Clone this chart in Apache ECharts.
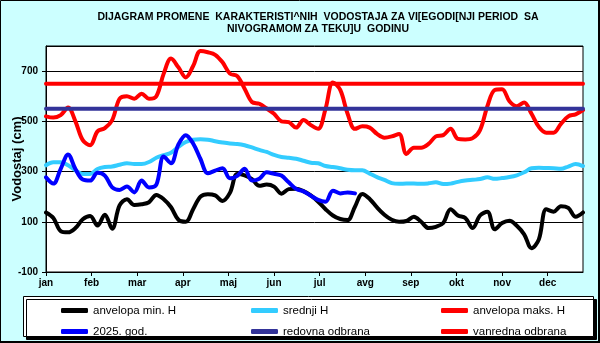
<!DOCTYPE html>
<html>
<head>
<meta charset="utf-8">
<script src="https://cdn.jsdelivr.net/npm/echarts@6/dist/echarts.min.js"></script>
<style>
html,body{margin:0;padding:0;background:#ccffff;}
#chart{width:600px;height:343px;}
</style>
</head>
<body>
<div id="chart"></div>
<script>
// ---- data ----
const monthLabels = ['jan','feb','mar','apr','maj','jun','jul','avg','sep','okt','nov','dec'];
const days = [0,5,10,15,20,25,30,35,40,45,50,55,60,65,70,75,80,85,90,95,100,105,110,115,120,125,130,135,140,145,150,155,160,165,170,175,180,185,190,195,200,205,210,215,220,225,230,235,240,245,250,255,260,265,270,275,280,285,290,295,300,305,310,315,320,325,330,335,340,345,350,355,360,365];
const anvelopaMin = [137,115,63,58,75,110,123,85,128,72,165,190,167,170,178,207,190,158,108,100,150,200,210,205,183,215,290,285,270,243,248,240,212,230,232,222,205,180,150,125,111,107,160,211,191,157,128,108,100,103,120,100,75,80,95,150,125,115,75,125,140,70,95,104,84,50,-5,30,150,140,162,155,120,137];
const srednjiH = [325,337,337,325,305,290,290,310,318,320,327,333,330,330,338,355,365,375,398,418,427,429,427,421,416,412,410,405,396,386,378,366,358,355,351,343,335,333,322,318,313,307,305,305,292,278,267,254,251,252,252,251,253,257,250,252,259,264,267,270,277,271,274,278,285,297,313,315,314,313,311,320,330,322];
const anvelopaMaks = [520,515,525,555,500,425,405,460,473,505,590,600,590,610,590,600,690,750,715,675,720,780,775,765,735,690,680,630,577,570,551,530,500,497,475,505,485,470,550,655,625,530,470,480,475,450,435,440,450,370,395,395,410,440,445,470,430,428,433,465,560,625,628,580,560,575,530,478,455,455,490,520,528,545];
const god2025 = [277,252,311,368,310,268,264,295,284,237,227,240,217,264,237,248,360,333,408,445,412,350,293,304,313,273,283,311,264,271,297,291,284,257,231,221,204,187,180,224,213,217,213];
const lineDays = [0,365];
const redovnaOdbrana = [550,550];
const vanrednaOdbrana = [650,650];
const yTicks = [-100,100,300,500,700];

const seriesNames = ['anvelopa min. H','srednji H','anvelopa maks. H','2025. god.','redovna odbrana','vanredna odbrana'];
const colors = ['#000000','#33ccff','#ff0000','#0000ff','#333399','#ff0000'];

function pairs(xs, ys){ return ys.map((v,i)=>[xs[i], v]); }

const chart = echarts.init(document.getElementById('chart'), null, {renderer:'canvas'});
const lineW = 4;
function mkSeries(name, data, color, smooth){
  return {
    name: name, type:'line', data: data, showSymbol:false, symbol:'none',
    smooth: smooth, lineStyle:{color:color, width:lineW, cap:'round', join:'round'},
    itemStyle:{color:color}, animation:false
  };
}
const option = {
  backgroundColor:'#ccffff',
  animation:false,
  title:{
    text:'DIJAGRAM PROMENE  KARAKTERISTI^NIH  VODOSTAJA ZA VI[EGODI[NJI PERIOD  SA\nNIVOGRAMOM ZA TEKU]U  GODINU',
    left:318, top:11, padding:0, textAlign:'center',
    textStyle:{fontFamily:'Liberation Sans, Arial, sans-serif', fontSize:10.5, fontWeight:'bold', color:'#000', lineHeight:12}
  },
  grid:{left:46, right:17, top:46, bottom:71, show:true, backgroundColor:'#ffffff', borderColor:'#000', borderWidth:1, containLabel:false, outerBoundsMode:'none'},
  xAxis:{
    type:'value', min:0, max:365, interval:31,
    axisLine:{show:true, onZero:false, lineStyle:{color:'#000', width:1}},
    axisTick:{show:true, inside:false, length:4, lineStyle:{color:'#000'}},
    splitLine:{show:false},
    axisLabel:{showMaxLabel:false, margin:6, color:'#000', fontFamily:'Liberation Sans, Arial, sans-serif', fontSize:10, fontWeight:'bold',
      formatter:function(v){ const i=Math.round(v/31); return monthLabels[i]||''; }}
  },
  yAxis:{
    type:'value', min:-100, max:800, interval:200,
    name:'Vodostaj (cm)', nameLocation:'middle', nameGap:22, nameRotate:90, nameMoveOverlap:false,
    nameTextStyle:{color:'#000', fontFamily:'Liberation Sans, Arial, sans-serif', fontSize:13, fontWeight:'bold'},
    axisLine:{show:true, lineStyle:{color:'#000', width:1}},
    axisTick:{show:true, inside:false, length:4, lineStyle:{color:'#000'}},
    splitLine:{show:true, lineStyle:{color:'#000', width:1}},
    axisLabel:{showMaxLabel:false, margin:8, color:'#000', fontFamily:'Liberation Sans, Arial, sans-serif', fontSize:10, fontWeight:'bold',
      formatter:function(v){ return yTicks.indexOf(v)>=0 ? String(v) : ''; }}
  },
  legend:{
    data:seriesNames, left:56, top:299, width:570, orient:'horizontal',
    itemWidth:27, itemHeight:5, itemGap:8, icon:'roundRect', selectedMode:false,
    textStyle:{width:150, lineHeight:13, color:'#000', fontFamily:'Liberation Sans, Arial, sans-serif', fontSize:11.5}
  },
  graphic:[
    {type:'rect', z:-10, silent:true, shape:{x:0.5,y:0.5,width:598,height:341}, style:{fill:null, stroke:'#000', lineWidth:1}},
    {type:'line', z:-10, silent:true, shape:{x1:0,y1:342,x2:600,y2:342}, style:{stroke:'#000', lineWidth:2}},
    {type:'line', z:-10, silent:true, shape:{x1:599,y1:0,x2:599,y2:343}, style:{stroke:'#000', lineWidth:2}},
    {type:'rect', z:-5, silent:true, shape:{x:23.5,y:296.5,width:570,height:40},
      style:{fill:'#ffffff', stroke:'#000', lineWidth:1, shadowColor:'#000', shadowOffsetX:3, shadowOffsetY:3, shadowBlur:0}}
  ],
  series:[
    mkSeries(seriesNames[0], pairs(days, anvelopaMin), colors[0], 0.35),
    mkSeries(seriesNames[1], pairs(days, srednjiH), colors[1], 0.35),
    mkSeries(seriesNames[2], pairs(days, anvelopaMaks), colors[2], 0.35),
    mkSeries(seriesNames[3], pairs(days, god2025), colors[3], 0.35),
    mkSeries(seriesNames[4], pairs(lineDays, redovnaOdbrana), colors[4], false),
    mkSeries(seriesNames[5], pairs(lineDays, vanrednaOdbrana), colors[5], false)
  ]
};
chart.setOption(option);
</script>
</body>
</html>
